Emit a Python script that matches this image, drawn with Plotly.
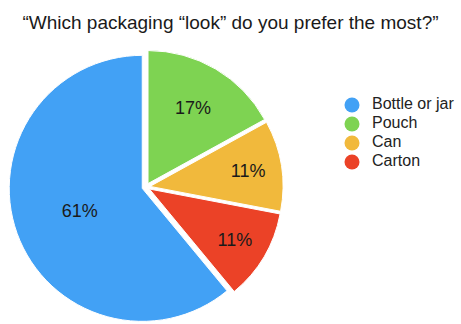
import plotly.graph_objects as go

# Survey answers
categories = ["Bottle or jar", "Pouch", "Can", "Carton"]
shares = [61, 17, 11, 11]
colors = ["#42A1F5", "#7ED352", "#F1B93C", "#EB4227"]
title_text = "\u201cWhich packaging \u201clook\u201d do you prefer the most?\u201d"

W, H = 461, 324
FONT = "Liberation Sans, Arial, Helvetica, sans-serif"

# Start the first slice so the remaining slices begin at 12 o'clock
start_angle = 360 * sum(shares[1:]) / sum(shares)

fig = go.Figure()

fig.add_trace(go.Pie(
    labels=categories,
    values=shares,
    sort=False,
    direction="clockwise",
    rotation=start_angle,
    pull=[0.03, 0.03, 0.03, 0.03],
    marker=dict(colors=colors, line=dict(color="white", width=1)),
    textinfo="percent",
    texttemplate="%{percent:.0%}",
    textposition="inside",
    insidetextorientation="horizontal",
    textfont=dict(family=FONT, size=18, color="#1a1a1a"),
    showlegend=False,
    hoverinfo="label+percent",
    domain=dict(x=[9 / W, 283 / W], y=[0.0, 274 / H]),
))

# Key: round swatches and names, one row per category, on a hidden axis pair
rows = list(range(len(categories)))
fig.add_trace(go.Scatter(
    x=[0] * len(categories),
    y=rows,
    mode="markers",
    marker=dict(symbol="circle", size=15, color=colors),
    showlegend=False,
    hoverinfo="skip",
    cliponaxis=False,
))
fig.add_trace(go.Scatter(
    x=[20] * len(categories),
    y=rows,
    mode="text",
    text=categories,
    textposition="middle right",
    textfont=dict(family=FONT, size=16, color="#222222"),
    showlegend=False,
    hoverinfo="skip",
    cliponaxis=False,
))

fig.update_layout(
    width=W, height=H,
    margin=dict(l=0, r=0, t=0, b=0),
    paper_bgcolor="white",
    plot_bgcolor="rgba(0,0,0,0)",
    title=dict(
        text=title_text,
        x=0.5, xanchor="center",
        y=1 - 22 / H, yanchor="middle",
        font=dict(family=FONT, size=19, color="#1a1a1a"),
    ),
    xaxis=dict(visible=False, domain=[340 / W, 460 / W], range=[-12, 108], fixedrange=True),
    yaxis=dict(visible=False, domain=[(H - 171.5) / H, (H - 95.5) / H],
               range=[len(categories) - 0.5, -0.5], fixedrange=True),
    showlegend=False,
)

fig.write_html("out.html")
